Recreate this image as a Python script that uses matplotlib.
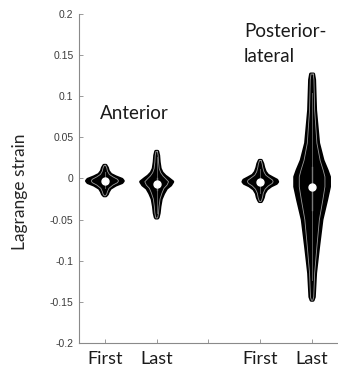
import matplotlib
matplotlib.use("Agg")
import matplotlib.pyplot as plt
import numpy as np

# ---- data ----
positions = [1, 2, 4, 5]
xtick_pos = [1, 2, 3, 4, 5]
xtick_labels = ["First", "Last", "", "First", "Last"]
ytick_vals = [-0.2, -0.15, -0.1, -0.05, 0, 0.05, 0.1, 0.15, 0.2]
ytick_labels = ["-0.2", "-0.15", "-0.1", "-0.05", "0", "0.05", "0.1", "0.15", "0.2"]
group_labels = ["Anterior", "Posterior-", "lateral"]

# violin profiles: strain value and half width (in category units)
v1_y = [0.016, 0.013, 0.009, 0.005, 0.002, -0.001, -0.003, -0.005, -0.008, -0.012, -0.016, -0.019, -0.021]
v1_w = [0.019, 0.048, 0.067, 0.115, 0.21, 0.33, 0.355, 0.33, 0.21, 0.105, 0.067, 0.048, 0.019]

v2_y = [0.033, 0.028, 0.020, 0.012, 0.007, 0.003, 0.000, -0.004, -0.008, -0.012, -0.018, -0.025, -0.034, -0.042, -0.047, -0.048]
v2_w = [0.019, 0.038, 0.048, 0.067, 0.105, 0.165, 0.23, 0.31, 0.27, 0.19, 0.135, 0.087, 0.062, 0.048, 0.029, 0.019]

v3_y = [0.022, 0.018, 0.013, 0.008, 0.004, 0.001, -0.002, -0.004, -0.006, -0.009, -0.013, -0.018, -0.023, -0.026, -0.028]
v3_w = [0.019, 0.048, 0.067, 0.096, 0.145, 0.23, 0.32, 0.335, 0.31, 0.21, 0.125, 0.077, 0.058, 0.038, 0.019]

v4_y = [0.127, 0.120, 0.083, 0.043, 0.022, 0.010, 0.002, -0.010, -0.026, -0.050, -0.083, -0.115, -0.144, -0.148]
v4_w = [0.029, 0.048, 0.067, 0.125, 0.21, 0.29, 0.335, 0.335, 0.28, 0.19, 0.125, 0.067, 0.042, 0.019]

medians = [-0.003, -0.007, -0.004, -0.0105]
q1 = [-0.006, -0.014, -0.008, -0.038]
q3 = [0.000, 0.000, 0.000, 0.014]
whisk_lo = [-0.012, -0.042, -0.018, -0.123]
whisk_hi = [0.008, 0.026, 0.012, 0.104]

profiles = [(v1_y, v1_w), (v2_y, v2_w), (v3_y, v3_w), (v4_y, v4_w)]

# ---- figure ----
fig = plt.figure(figsize=(3.38, 3.74), dpi=100)
ax = fig.add_axes([0.2337, 0.0829, 0.7663, 0.8797])

for pos, (py, pw), med, a, b, lo, hi in zip(positions, profiles, medians, q1, q3, whisk_lo, whisk_hi):
    py = np.asarray(py)
    pw = np.asarray(pw)
    xs = np.concatenate([pos + pw, (pos - pw)[::-1]])
    ys = np.concatenate([py, py[::-1]])
    ax.fill(xs, ys, facecolor="black", edgecolor="black", linewidth=2.2,
            joinstyle="round", zorder=2)
    # inner contour
    iw = pw * 0.74
    ax.plot(np.concatenate([pos + iw, (pos - iw)[::-1], [pos + iw[0]]]),
            np.concatenate([py, py[::-1], [py[0]]]),
            color="#9a9a9a", lw=0.6, zorder=3)
    ax.plot([pos, pos], [lo, hi], color="#5a5a5a", lw=0.7, zorder=3)
    ax.plot([pos, pos], [a, b], color="#7a7a7a", lw=1.0, zorder=3)
    ax.plot([pos], [med], marker="o", ms=5, color="white", mec="white", zorder=4)

ax.set_xlim(0.5, 5.5)
ax.set_ylim(-0.2, 0.2)
ax.set_xticks(xtick_pos)
ax.set_xticklabels(xtick_labels, fontfamily="Lato", fontsize=13, color="#1a1a1a")
ax.set_yticks(ytick_vals)
ax.set_yticklabels(ytick_labels, fontfamily="Liberation Sans", fontsize=7.5, color="#3c3c3c")
ax.tick_params(axis="both", direction="in", length=3, width=0.6, color="#8a8a8a")
ax.tick_params(axis="x", pad=6)
ax.tick_params(axis="y", pad=4)
for s in ["top", "right"]:
    ax.spines[s].set_visible(False)
for s in ["left", "bottom"]:
    ax.spines[s].set_color("#8a8a8a")
    ax.spines[s].set_linewidth(0.8)

ax.set_ylabel("Lagrange strain", fontfamily="Lato", fontsize=12.5, color="#262626")
ax.yaxis.set_label_coords(-0.196, 0.46)

fig.text(100 / 338, 1 - 119 / 374, group_labels[0], fontfamily="Lato", fontsize=13.5,
         color="#1a1a1a", ha="left", va="baseline")
fig.text(244 / 338, 1 - 37 / 374, group_labels[1], fontfamily="Lato", fontsize=13.5,
         color="#1a1a1a", ha="left", va="baseline")
fig.text(244 / 338, 1 - 62 / 374, group_labels[2], fontfamily="Lato", fontsize=13.5,
         color="#1a1a1a", ha="left", va="baseline")

fig.savefig("out.png", dpi=100)
